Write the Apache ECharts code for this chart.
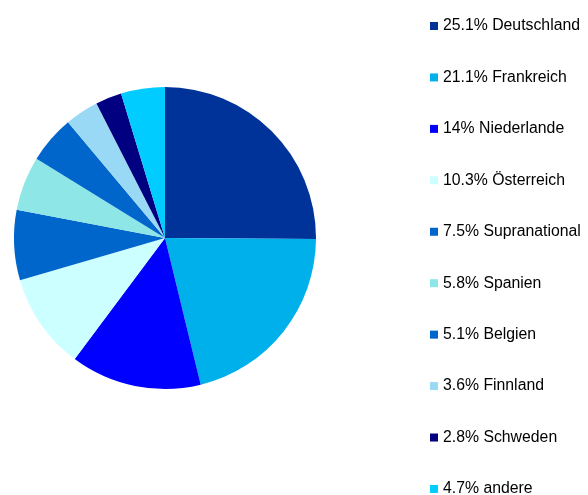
<!DOCTYPE html>
<html><head><meta charset="utf-8">
<script src="https://cdn.jsdelivr.net/npm/echarts@6/dist/echarts.min.js"></script>
<style>html,body{margin:0;padding:0;background:#fff}#c{width:588px;height:495px}</style>
</head><body><div id="c"></div>
<script>
const categories = ["Deutschland","Frankreich","Niederlande","Österreich","Supranational","Spanien","Belgien","Finnland","Schweden","andere"];
const values = [25.1,21.1,14,10.3,7.5,5.8,5.1,3.6,2.8,4.7];
const colors = ["#003399","#00b0ea","#0000ff","#ccffff","#0066cc","#8ee6e6","#0066cc","#99d9f5","#000080","#00ccff"];
const chart = echarts.init(document.getElementById('c'));
chart.setOption({
  animation:false,
  color: colors,
  legend:{
    orient:'vertical', left:430, top:18, height:700, padding:0,
    icon:'rect', itemWidth:8, itemHeight:8, itemGap:35.44,
    textStyle:{fontFamily:'Liberation Sans, Arial', fontSize:15.8, lineHeight:16, color:'#000'},
    formatter: function(name){ const i=categories.indexOf(name); return values[i]+'% '+name; }
  },
  series:[{
    type:'pie', center:[165,238], radius:[0,151], startAngle:90, clockwise:true,
    label:{show:false}, labelLine:{show:false},
    itemStyle:{borderWidth:0},
    emphasis:{disabled:true},
    data: categories.map((c,i)=>({name:c,value:values[i]}))
  }]
});
</script></body></html>
